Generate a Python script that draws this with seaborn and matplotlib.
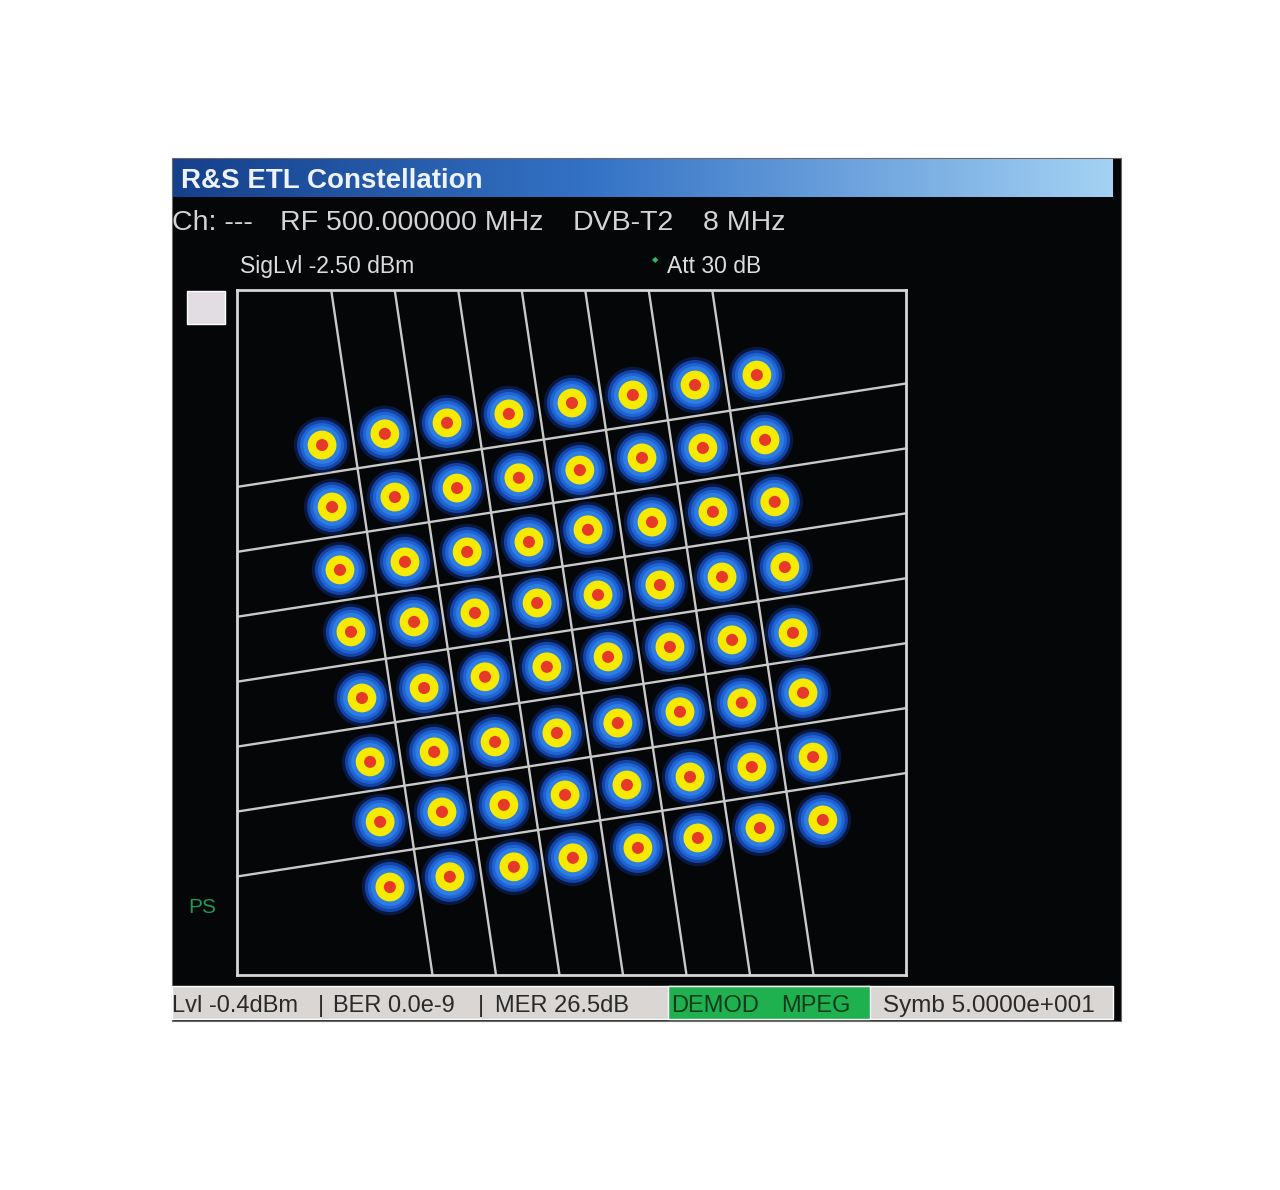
import numpy as np
import pandas as pd
import seaborn as sns
import matplotlib.pyplot as plt
from matplotlib.patches import Rectangle
from matplotlib.colors import LinearSegmentedColormap

sym_i = [
    [-7.96, -5.96, -3.98, -2.01, 0.00, 1.94, 3.92, 5.89],
    [-7.64, -5.64, -3.66, -1.69, 0.25, 2.23, 4.17, 6.15],
    [-7.39, -5.32, -3.34, -1.37, 0.51, 2.55, 4.49, 6.46],
    [-7.04, -5.03, -3.09, -1.11, 0.83, 2.80, 4.78, 6.78],
    [-6.69, -4.71, -2.77, -0.80, 1.15, 3.12, 5.10, 7.04],
    [-6.43, -4.39, -2.45, -0.48, 1.46, 3.44, 5.41, 7.36],
    [-6.11, -4.14, -2.17, -0.22, 1.75, 3.76, 5.73, 7.68],
    [-5.80, -3.89, -1.85, 0.03, 2.10, 4.01, 5.99, 7.99],
]
sym_q = [
    [5.76, 6.11, 6.45, 6.73, 7.07, 7.32, 7.63, 7.94],
    [3.83, 4.14, 4.42, 4.74, 4.98, 5.36, 5.67, 5.92],
    [1.87, 2.12, 2.43, 2.74, 3.12, 3.36, 3.68, 3.99],
    [-0.06, 0.25, 0.53, 0.84, 1.09, 1.40, 1.65, 1.96],
    [-2.12, -1.81, -1.46, -1.15, -0.84, -0.53, -0.31, -0.09],
    [-4.11, -3.80, -3.49, -3.21, -2.90, -2.55, -2.27, -1.96],
    [-5.98, -5.67, -5.45, -5.14, -4.83, -4.58, -4.27, -3.96],
    [-8.01, -7.69, -7.38, -7.10, -6.79, -6.48, -6.17, -5.92],
]

# Fronteras de decision (64QAM) y giro de la constelacion DVB-T2
boundaries = [-6, -4, -2, 0, 2, 4, 6]
rot_deg = 8.6

title = 'R&S ETL Constellation'
header_items = ['Ch: ---', 'RF 500.000000 MHz', 'DVB-T2', '8 MHz']
sig_lvl = 'SigLvl -2.50 dBm'
att = 'Att 30 dB'
status_left = ['Lvl -0.4dBm', '|', 'BER 0.0e-9', '|', 'MER 26.5dB']
status_mid = ['DEMOD', 'MPEG']
status_right = 'Symb 5.0000e+001'

W, H = 1280, 1190

sns.set_style('white')
plt.rcParams['font.family'] = ['Liberation Sans', 'DejaVu Sans']

fig = plt.figure(figsize=(W / 100, H / 100), dpi=100)
fig.patch.set_facecolor('white')


def fx(px):
    return px / W


def fy(py):
    return 1 - py / H


def put(px, py, s, **kw):
    fig.text(fx(px), fy(py), s, va='baseline', ha='left', **kw)


def rect(x0, y0, x1, y1, color, z=1, **kw):
    fig.patches.append(Rectangle((fx(x0), fy(y1)), (x1 - x0) / W, (y1 - y0) / H,
                                 transform=fig.transFigure, facecolor=color, zorder=z, **kw))


# Panel negro del instrumento
rect(172, 158, 1121, 1021, '#050607', z=-5, edgecolor='#6a6a6a', linewidth=0.8)

# Barra de titulo con degradado
bar_cmap = LinearSegmentedColormap.from_list('bar', [(0, '#15408c'), (0.45, '#3573c6'), (1, '#a4d2f4')])
ax_bar = fig.add_axes([fx(173), fy(197), (1113 - 173) / W, (197 - 159) / H])
ax_bar.imshow(np.linspace(0, 1, 256)[None, :], aspect='auto', cmap=bar_cmap)
ax_bar.axis('off')
put(181, 188, title, color='#eef3fa', fontsize=20, fontweight='bold', zorder=5)

# Cabecera
hdr_x = [172, 280, 573, 703]
for x, s in zip(hdr_x, header_items):
    put(x, 230, s, color='#d4d4d4', fontsize=20.5)
put(240, 273, sig_lvl, color='#dcdcdc', fontsize=16.5)
put(667, 273, att, color='#dcdcdc', fontsize=16.5)
fig.text(fx(655), fy(260), '\u25c6', color='#22c060', fontsize=6, ha='center', va='center',
         family=['DejaVu Sans'])

# Cuadro gris y etiqueta PS
rect(187, 291, 225, 324, '#e2dde2')
put(188, 913, 'PS', color='#1f9a52', fontsize=15)

# Diagrama de constelacion
df = pd.DataFrame({'I': np.ravel(sym_i), 'Q': np.ravel(sym_q)})

ax = fig.add_axes([fx(237), fy(975), (906 - 237) / W, (975 - 290) / H])
ax.set_facecolor('#050607')
ax.set_xlim(-10.67, 10.64)
ax.set_ylim(-10.75, 10.59)

th = np.deg2rad(rot_deg)
c, s_ = np.cos(th), np.sin(th)
for b in boundaries:
    p = (b * c, b * s_)
    ax.axline(p, (p[0] - s_, p[1] + c), color='#c9c9c9', lw=1.7, zorder=1)
    p = (-b * s_, b * c)
    ax.axline(p, (p[0] + c, p[1] + s_), color='#c9c9c9', lw=1.7, zorder=1)

# capas de cada nube: azul oscuro exterior -> amarillo -> nucleo rojo
layers = [
    (1650, '#0d2f8a', 0.45),
    (1300, '#1650c0', 0.8),
    (1000, '#1e64d4', 1.0),
    (740, '#2e7de2', 1.0),
    (430, '#f6ea00', 1.0),
    (75, '#e6392a', 1.0),
]
for size, color, alpha in layers:
    sns.scatterplot(data=df, x='I', y='Q', s=size, color=color, alpha=alpha,
                    edgecolor='none', linewidth=0, legend=False, ax=ax, zorder=2)

ax.set(xlabel='', ylabel='', xticks=[], yticks=[])
for sp in ax.spines.values():
    sp.set_visible(True)
    sp.set_color('#d6d6d6')
    sp.set_linewidth(2)

# Barra de estado inferior
rect(172, 986, 1113, 1019, '#d9d6d4')
rect(668, 986, 870, 1019, '#1fb14f')
left_x = [172, 318, 333, 478, 495]
for x, s in zip(left_x, status_left):
    put(x, 1012, s, color='#2a2a2a', fontsize=17)
for x, s in zip([671, 781], status_mid):
    put(x, 1012, s, color='#123a1c', fontsize=17)
put(883, 1012, status_right, color='#2a2a2a', fontsize=17.5)

plt.savefig('out.png', dpi=100, facecolor='white')
